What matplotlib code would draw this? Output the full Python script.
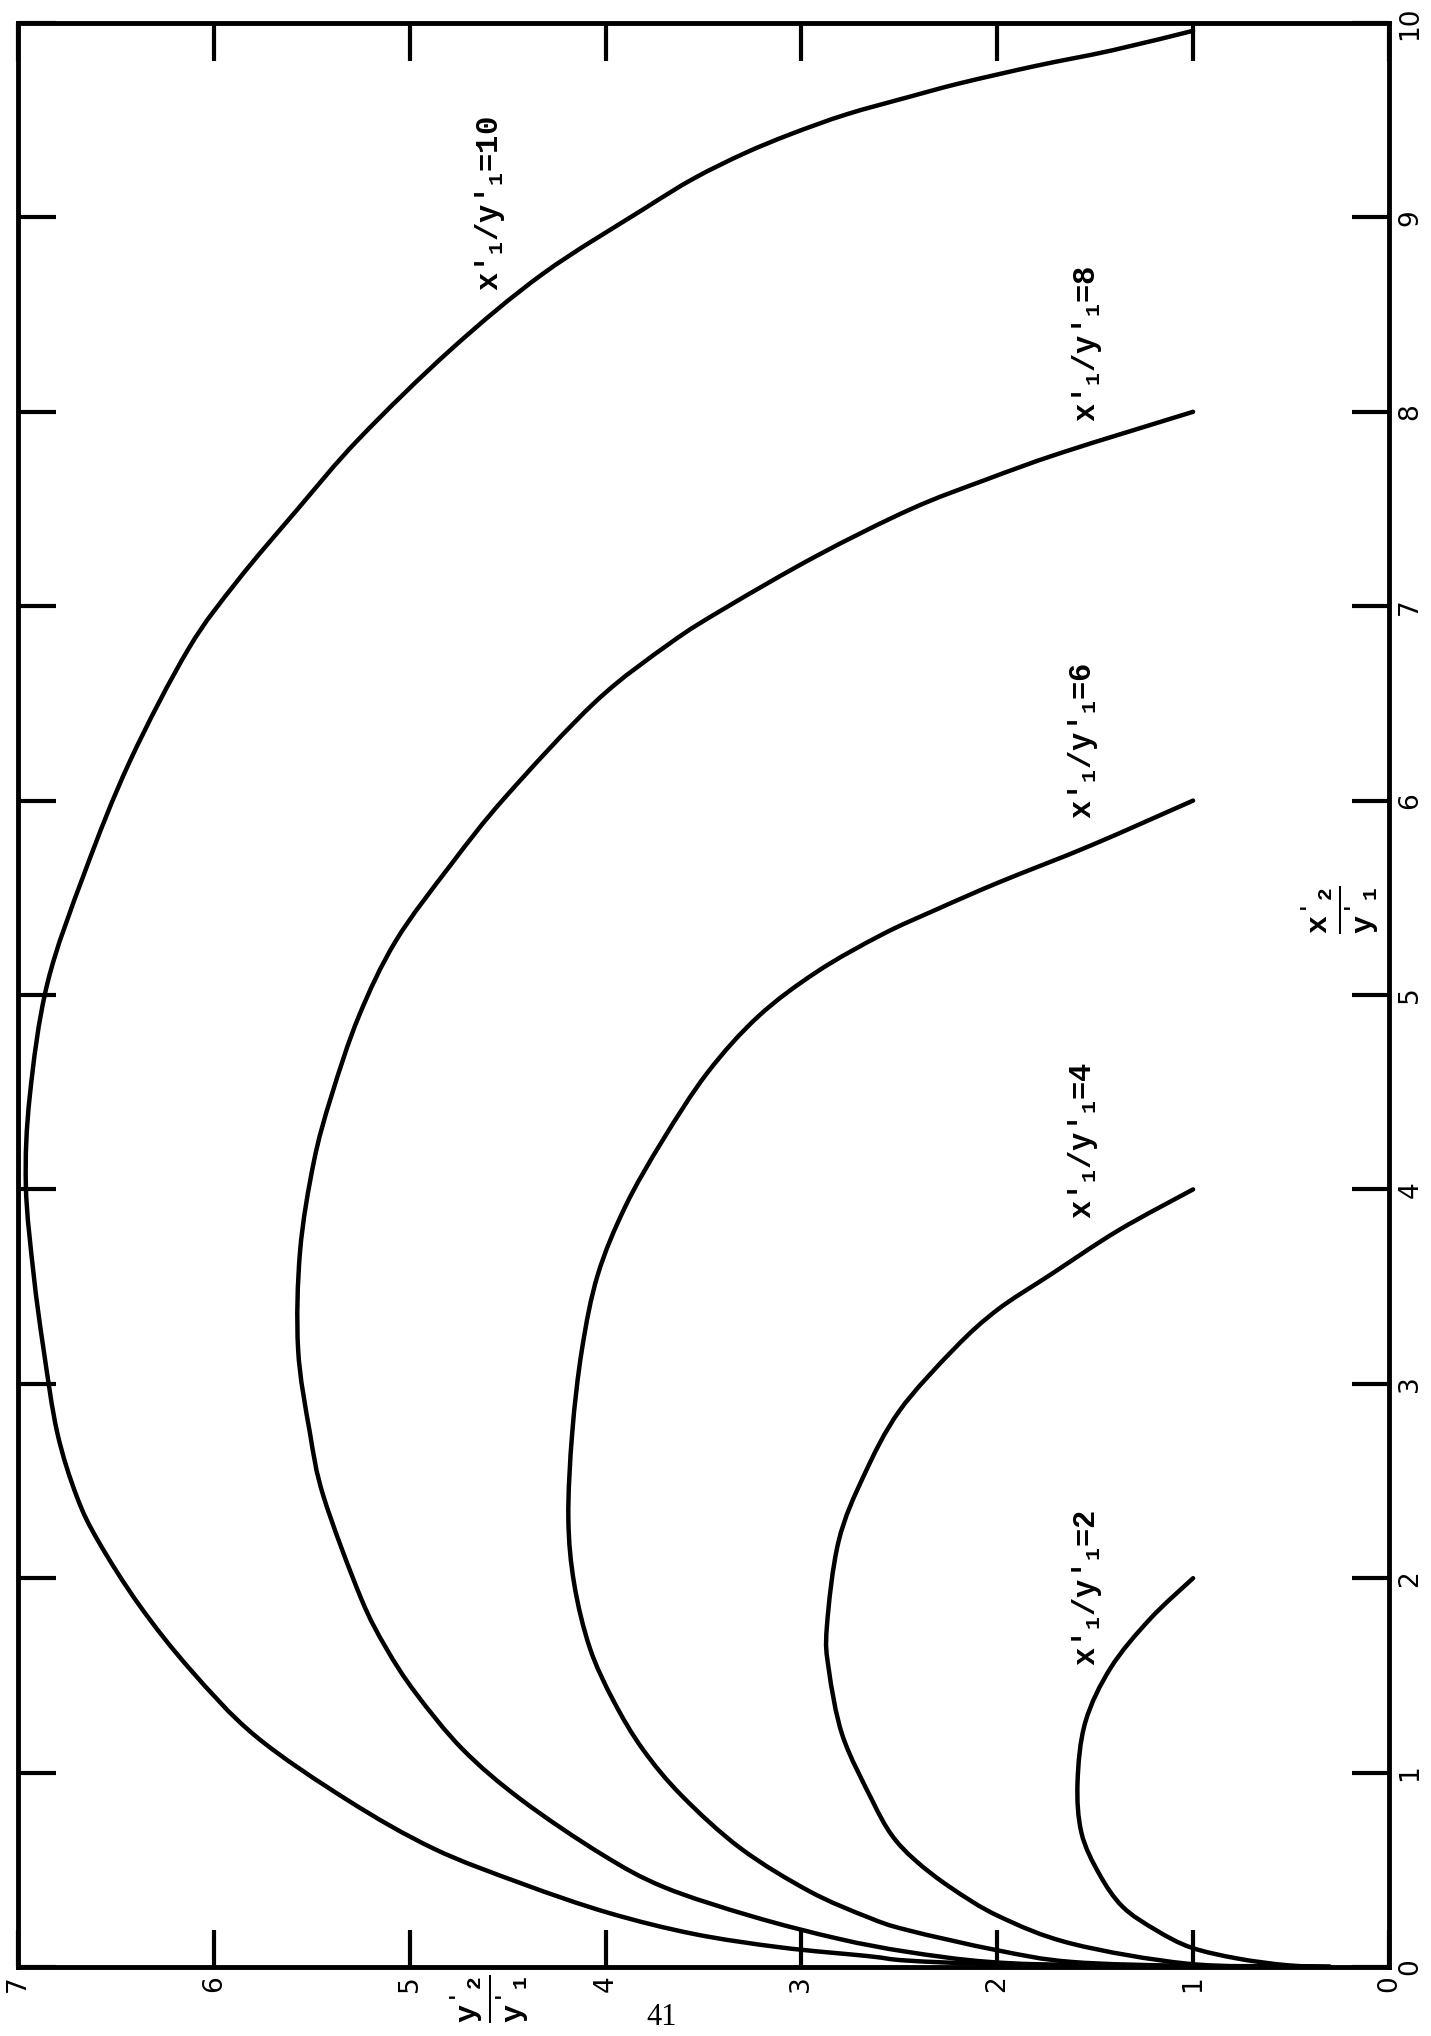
import matplotlib.pyplot as plt
from matplotlib.path import Path
from matplotlib.patches import PathPatch

plt.rcParams['mathtext.fontset'] = 'custom'
plt.rcParams['mathtext.rm'] = 'Liberation Mono:bold'
plt.rcParams['mathtext.it'] = 'Liberation Mono:bold'
plt.rcParams['mathtext.bf'] = 'Liberation Mono:bold'

# values: x'2/y'1 (vertical on page) and y'2/y'1 (horizontal)
ratios = [2, 4, 6, 8, 10]

x2_r2 = [2.0, 1.79, 1.54, 1.26, 0.95, 0.69, 0.48, 0.31, 0.19, 0.10, 0.043,
         0.009, 0.0]
y2_r2 = [1.0, 1.22, 1.42, 1.55, 1.59, 1.57, 1.48, 1.36, 1.19, 1.01, 0.77,
         0.52, 0.3]

x2_r4 = [4.0, 3.79, 3.56, 3.38, 3.18, 2.86, 2.53, 2.19, 1.75, 1.53, 1.19,
         0.86, 0.68, 0.55, 0.41, 0.26, 0.12, 0.017, 0.003, 0.0]
y2_r4 = [1.0, 1.38, 1.73, 2.00, 2.22, 2.50, 2.68, 2.81, 2.87, 2.86, 2.79,
         2.64, 2.54, 2.42, 2.24, 1.99, 1.62, 1.03, 0.5, 0.3]

x2_r6 = [6.0, 5.77, 5.58, 5.44, 5.31, 5.12, 4.89, 4.60, 4.25, 3.91, 3.56,
         3.18, 2.75, 2.31, 1.97, 1.64, 1.37, 1.12, 0.88, 0.61, 0.39, 0.256,
         0.19, 0.086, 0.026, 0.005, 0.0]
y2_r6 = [1.0, 1.52, 1.99, 2.31, 2.59, 2.92, 3.22, 3.48, 3.71, 3.90, 4.04,
         4.12, 4.17, 4.19, 4.16, 4.08, 3.96, 3.81, 3.61, 3.31, 2.96, 2.66,
         2.46, 2.0, 1.62, 1.0, 0.3]

x2_r8 = [8.0, 7.79, 7.65, 7.50, 7.26, 6.99, 6.81, 6.51, 6.02,
         5.67, 5.28, 4.89, 4.48, 4.14, 3.68, 3.18, 2.75, 2.42, 1.90, 1.64,
         1.41, 1.12, 0.86, 0.58, 0.41, 0.26, 0.145, 0.078, 0.026, 0.008, 0.0]
y2_r8 = [1.0, 1.67, 2.06, 2.44, 2.92, 3.39, 3.67, 4.05, 4.51,
         4.79, 5.07, 5.26, 5.40, 5.49, 5.56, 5.57, 5.51, 5.44, 5.25, 5.12,
         4.97, 4.73, 4.43, 4.02, 3.70, 3.25, 2.81, 2.46, 2.04, 1.5, 0.3]

x2_r10 = [9.96, 9.86, 9.78, 9.69, 9.62, 9.53, 9.43, 9.33, 9.20, 9.04, 8.71,
          8.32, 7.86, 7.49, 7.13, 6.78, 6.20, 5.63, 5.06, 4.48, 4.02, 3.56,
          3.18, 2.75, 2.42, 2.19, 1.86, 1.53, 1.19, 0.86, 0.61, 0.43, 0.28,
          0.17, 0.10, 0.056, 0.033, 0.015, 0.004, 0.0]
y2_r10 = [1.0, 1.41, 1.80, 2.19, 2.45, 2.77, 3.05, 3.29, 3.55, 3.81, 4.32,
          4.79, 5.26, 5.58, 5.88, 6.13, 6.43, 6.66, 6.85, 6.94, 6.96, 6.92,
          6.87, 6.80, 6.70, 6.59, 6.38, 6.12, 5.79, 5.32, 4.88, 4.43, 3.99,
          3.55, 3.10, 2.66, 2.46, 2.0, 1.0, 0.3]

curves = [(x2_r2, y2_r2), (x2_r4, y2_r4), (x2_r6, y2_r6),
          (x2_r8, y2_r8), (x2_r10, y2_r10)]


def smooth_path(xs, ys):
    # draw a smooth (Catmull-Rom style) bezier through the read points
    pts = list(zip(xs, ys))
    n = len(pts)
    verts = [pts[0]]
    codes = [Path.MOVETO]
    for i in range(n - 1):
        p0 = pts[max(i - 1, 0)]
        p1 = pts[i]
        p2 = pts[i + 1]
        p3 = pts[min(i + 2, n - 1)]
        c1 = (p1[0] + (p2[0] - p0[0]) / 6, p1[1] + (p2[1] - p0[1]) / 6)
        c2 = (p2[0] - (p3[0] - p1[0]) / 6, p2[1] - (p3[1] - p1[1]) / 6)
        verts += [c1, c2, p2]
        codes += [Path.CURVE4] * 3
    return Path(verts, codes)


fig = plt.figure(figsize=(14.31, 20.36), dpi=100)
ax = fig.add_axes([0.0126, 0.0339, 0.958, 0.9548])

for x2, y2 in curves:
    ax.add_patch(PathPatch(smooth_path(y2, x2), facecolor='none',
                           edgecolor='black', lw=3.2, capstyle='round'))

# curve labels (page is turned, so text runs upward)
label_pos = {10: (4.59, 9.07), 8: (1.54, 8.35), 6: (1.56, 6.31),
             4: (1.56, 4.25), 2: (1.54, 1.95)}
for r in ratios:
    px, py = label_pos[r]
    ax.text(px, py, "x'$_1$/y'$_1$=%d" % r, rotation=90, ha='center',
            va='center', fontsize=22, family='Liberation Mono',
            weight='bold')

ax.text(0.25, 5.44, r"$\frac{x'_{2}}{y'_{1}}$", rotation=90, ha='center',
        va='center', fontsize=31)

ax.set_xlim(7, 0)
ax.set_ylim(0, 10)
ax.set_xticks(range(8))
ax.set_yticks(range(11))
ax.tick_params(direction='in', length=27, width=3, top=True, right=True,
               left=True, bottom=True, labelleft=False, labelright=True,
               labelbottom=True, labelsize=19, pad=6)
for t in ax.get_yticklabels():
    t.set_rotation(90)
    t.set_va('center')
for t in ax.get_xticklabels():
    t.set_rotation(90)
    t.set_ha('center')
for s in ax.spines.values():
    s.set_linewidth(3.5)

fig.text(0.3424, 0.0185, r"$\frac{y'_{2}}{y'_{1}}$", rotation=90,
         ha='center', va='center', fontsize=31)
fig.text(0.4626, 0.0093, '41', ha='center', va='center', fontsize=22,
         family='Liberation Serif')

fig.savefig('out.png', dpi=100)
